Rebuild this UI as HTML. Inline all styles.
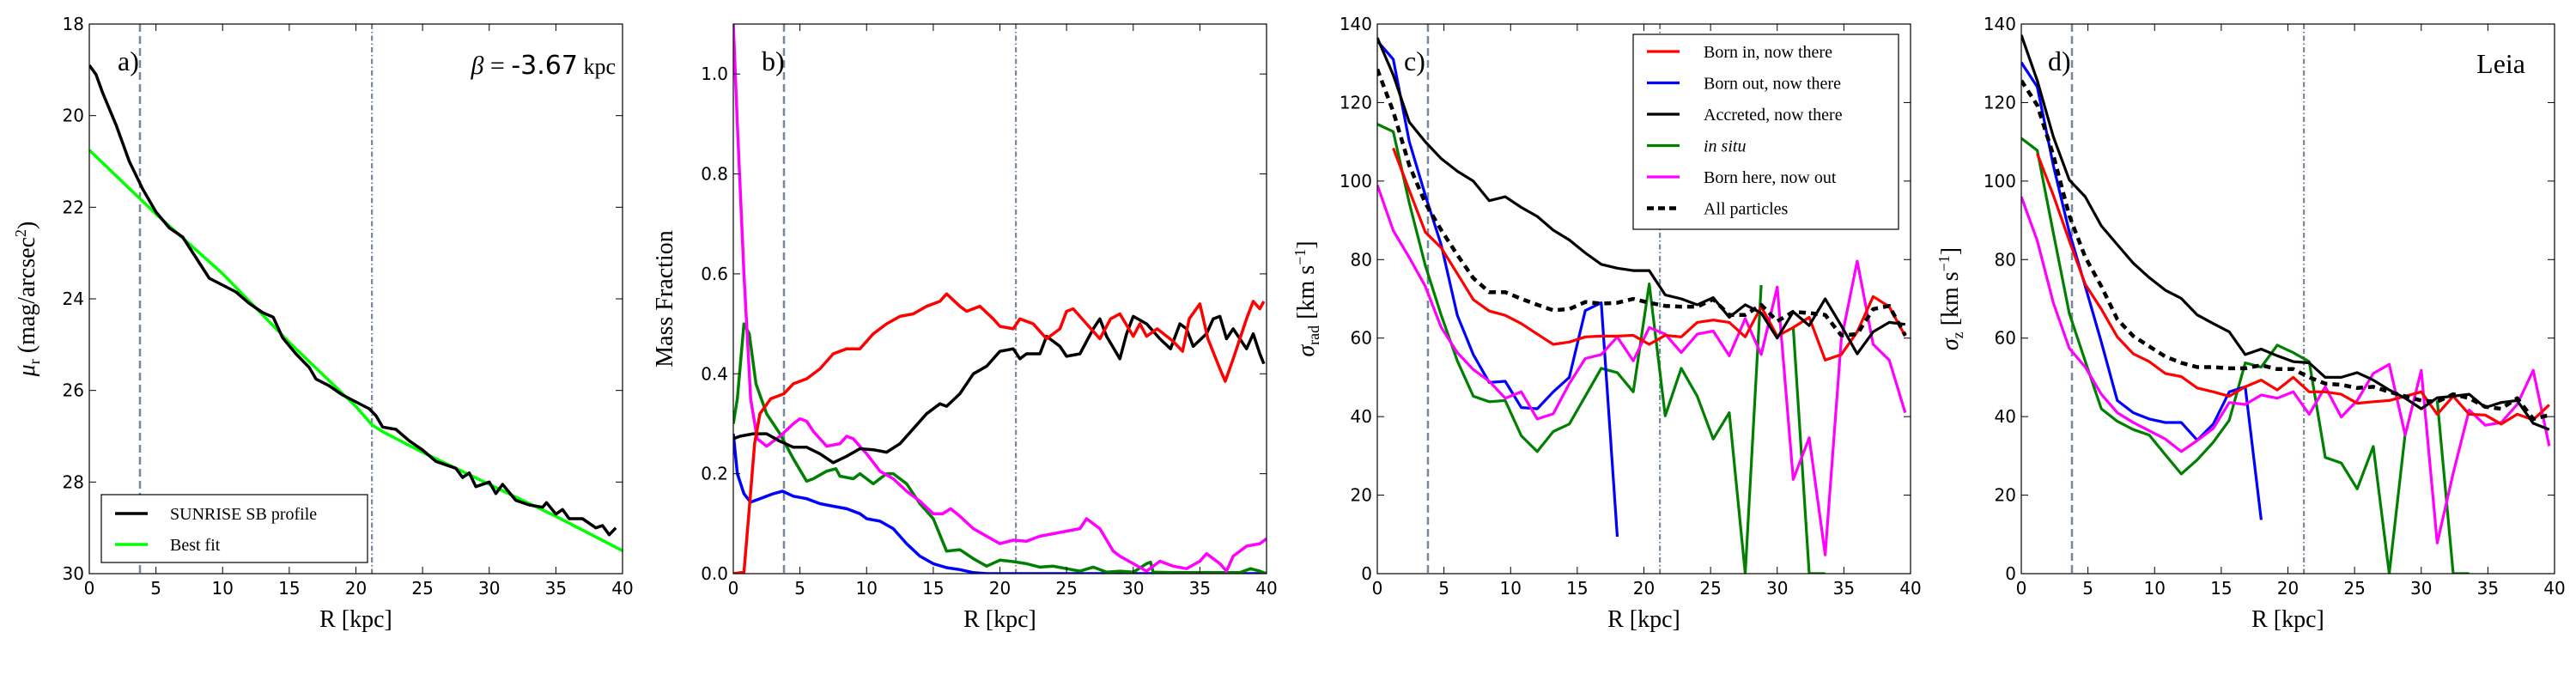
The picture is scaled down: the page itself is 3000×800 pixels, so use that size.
<!DOCTYPE html>
<html><head><meta charset="utf-8"><style>
html,body{margin:0;padding:0;background:#fff;}
svg{display:block;}
text{font-family:"DejaVu Sans","Liberation Sans",sans-serif;}
.serif{font-family:"Liberation Serif","DejaVu Serif",serif;}
</style></head><body>
<svg id="fig" width="3000" height="800" viewBox="0 0 3000 800" xmlns="http://www.w3.org/2000/svg"></svg>
<script>
// ---------- data ----------
const aR = [0,0.5,1,2,3,4,5,6,7,8,9,10,11,12,13,13.8,14.5,15.5,16.5,17,18,19,20,21,21.5,22,23,24,25,26,27,27.5,28,28.5,29,30,30.5,31,32,33,34,34.3,35,35.5,36,37,38,38.5,39,39.5];
const aSB = [18.9,19.1,19.5,20.2,21.0,21.6,22.1,22.45,22.65,23.1,23.55,23.7,23.85,24.1,24.3,24.4,24.85,25.2,25.5,25.75,25.9,26.1,26.25,26.4,26.55,26.8,26.85,27.1,27.3,27.55,27.65,27.7,27.9,27.8,28.1,28.0,28.25,28.05,28.4,28.5,28.55,28.45,28.7,28.6,28.8,28.8,29.0,28.95,29.15,29.0];
const aFitR = [0,5,10,15,20,21.2,22,25,30,35,40];
const aFit = [20.75,22.15,23.45,24.95,26.35,26.75,26.9,27.35,28.05,28.75,29.5];

const bRedR = [0,0.8,1.2,1.6,2,2.8,3.8,4.5,5.5,6.5,7.5,8.5,9.5,10.5,11.5,12.5,13.5,14.5,15.5,16,17,17.5,18.5,19.5,20,21,21.5,22.5,23.5,24.5,25,25.5,26.5,27.5,28.3,29,30,30.5,31,31.8,33,33.7,34.2,35,35.6,36.5,36.9,37.5,38.5,39,39.5,39.8];
const bRed = [0,0.003,0.13,0.26,0.32,0.35,0.36,0.38,0.39,0.41,0.44,0.45,0.45,0.48,0.5,0.515,0.52,0.535,0.545,0.56,0.535,0.525,0.535,0.51,0.495,0.49,0.51,0.5,0.47,0.49,0.525,0.53,0.5,0.47,0.51,0.52,0.475,0.5,0.475,0.49,0.465,0.445,0.51,0.54,0.47,0.41,0.385,0.43,0.51,0.545,0.53,0.545];
const bBlackR = [0,0.5,1.5,2.5,3.5,4.5,5.5,6.5,7.5,8.5,9.5,10.5,11.5,12.5,13.5,14.5,15.5,16,17,18,19,20,21,21.5,22,23,23.5,24.5,25,26,27,27.5,28,29,29.5,30,31,32,32.8,33.5,34,34.5,35.5,36,36.5,37,37.5,38.5,39,39.5,39.8];
const bBlack = [0.27,0.275,0.28,0.28,0.265,0.253,0.253,0.24,0.222,0.235,0.25,0.248,0.243,0.26,0.29,0.32,0.34,0.335,0.36,0.4,0.415,0.445,0.45,0.43,0.44,0.44,0.475,0.455,0.435,0.44,0.49,0.51,0.475,0.43,0.48,0.515,0.5,0.47,0.45,0.5,0.49,0.455,0.48,0.51,0.515,0.47,0.49,0.45,0.48,0.44,0.42];
const bBlueR = [0,0.3,0.8,1.3,2,3,3.7,4.5,5.5,6.5,7.5,8.5,9.5,10,11,12,13,14,15,16,17,18,19,40];
const bBlue = [0.28,0.2,0.16,0.143,0.15,0.16,0.165,0.155,0.15,0.14,0.135,0.13,0.12,0.11,0.105,0.09,0.06,0.035,0.02,0.012,0.008,0.002,0,0];
const bGreenR = [0,0.3,0.8,1.2,1.7,2.5,3.5,4.5,5.5,6,7,7.7,8,9,9.5,10.5,11.5,12,13,14,15,16,17,18,19,20,21,22,23,24,25,26,27,28,29,30,31,31.3,31.5,33,38,38.8,39.5,40];
const bGreen = [0.3,0.35,0.5,0.48,0.38,0.32,0.28,0.23,0.185,0.19,0.205,0.21,0.195,0.19,0.2,0.18,0.2,0.2,0.18,0.14,0.11,0.045,0.048,0.03,0.015,0.027,0.024,0.02,0.013,0.015,0.01,0.005,0.013,0.003,0.005,0.003,0.02,0.023,0.003,0.002,0.002,0.01,0.005,0];
const bMagR = [0,0.3,0.8,1.3,1.8,2.5,3.5,4.5,5,5.5,6,7,8,8.5,9,10,11,12,13,14,15,15.7,16.3,17,18,19,20,21,22,23,24,25,26,26.5,27.5,28.5,29,30,31,32,33,34,35,35.5,36.5,37,37.5,38.5,39.5,40];
const bMag = [1.1,0.9,0.6,0.35,0.27,0.255,0.275,0.3,0.31,0.305,0.285,0.255,0.26,0.275,0.27,0.24,0.205,0.19,0.165,0.145,0.12,0.12,0.13,0.115,0.09,0.075,0.06,0.067,0.065,0.075,0.08,0.085,0.09,0.11,0.09,0.045,0.035,0.02,0.005,0.025,0.015,0.01,0.025,0.04,0.02,0.005,0.035,0.055,0.06,0.07];

// velocity bins (kpc)
const vR = [0,1.2,2.4,3.6,4.8,6,7.2,8.4,9.6,10.8,12,13.2,14.4,15.6,16.8,18,19.2,20.4,21.6,22.8,24,25.2,26.4,27.6,28.8,30,31.2,32.4,33.6,34.8,36,37.2,38.4,39.6];
const cRed = [null,108.4,97.6,87,83,76.4,69.8,66.9,65.8,63.7,61,58.4,59,60.3,60.5,60.5,60.7,58.4,60.7,60.3,64,64.6,64,60.3,68,60.5,62.7,65.3,54.4,55.8,61.6,70.6,68,60.5];
const cBlue = [135.7,131,110,96.4,83.7,65.8,55.8,48.7,49,42.3,42,46.3,50,67,69,9.4,null,null,null,null,null,null,null,null,null,null,null,null,null,null,null,null,null,null];
const cBlack = [136.5,127,115,110,105.7,102.5,100,95,96,93.3,91,87.5,85,81.7,78.8,77.8,77.2,77.2,71,70,68.5,70.3,65.3,68.5,66.4,60,66.7,63.2,70,63.2,56,61.6,64,63.5];
const cGreen = [114.5,112.6,94.4,78.5,65.8,54.2,45.2,43.8,44.1,35.1,31.1,36.2,38.1,45.2,52.3,51.2,46.3,73.8,40.2,52.3,45.2,34.3,41,0,73.5,null,62.7,0,0,null,null,null,null,null];
const cMag = [99,87.4,80.5,73.2,62.7,56.3,52,49,44.7,46.3,39.4,40.7,48.4,54.8,55.8,60.3,54.2,62.7,61,56.3,61,61.8,55.5,65,55.8,73,24,34.6,4.8,59.5,79.6,58.4,54.4,41];
const cAll = [128.5,117.7,104,94.4,87.5,81.2,75.3,71.7,71.7,70,68.5,67.1,67.4,69.2,68.8,69,70,69,68.2,68,68,69.9,65.9,65.9,68.5,64.3,66.7,66.4,65.9,60.7,61,67.4,68.2,60.7];

const dRed = [null,107,96.4,84.8,73.7,67.4,60.3,56,54,51,50.2,47.3,46.3,45.2,47.6,49.3,46.8,50,46.3,46.3,45.7,43.4,43.8,44.1,45.2,46.3,40.6,45.2,40.6,40.4,38.1,40.6,39.2,43];
const dBlue = [130.2,124,104,87,73.2,59,44.1,41,39.4,38.5,38.5,34,38.1,46.3,47.6,13.7,null,null,null,null,null,null,null,null,null,null,null,null,null,null,null,null,null,null];
const dBlack = [137.2,125.6,111.3,100.3,96,88.6,83.8,79.1,75.4,72.2,70.1,65.9,63.7,61.6,55.8,57.2,55.5,54,53.7,50,50,51.2,49.3,46.8,44.7,42,44.8,45.2,45.7,42.3,43.6,44.1,38.3,36.7];
const dGreen = [110.9,107.8,86.8,66.3,54.1,42,38.8,36.7,35.3,30.3,25.4,29,33.5,39.1,53.7,52.6,58.2,56.3,54,29.6,28.2,21.6,32.4,0,35.7,null,44.1,0,0,null,null,null,null,null];
const dMag = [96,84.8,69,57.4,52.6,45.7,41,38.5,36.4,34.3,31.1,33.9,37,43.6,43.1,45.5,44.7,46.3,40.6,47.6,39.9,44.1,51,53.3,35.3,51.8,7.8,25.6,41.7,37.8,38.5,43.1,51.8,32.5];
const dAll = [125.6,119.3,106.6,91.2,80.6,73.2,64.8,60.5,57.9,55.3,53.7,52.6,52.6,52.3,52.3,53.1,52.1,52.1,50,48.4,48.1,47.3,47.6,46.3,45.2,44.1,43.8,45.7,44.7,42.5,42,44.7,39.4,40.4];

const xTicks = [0,5,10,15,20,25,30,35,40];
const aYTicks = [18,20,22,24,26,28,30];
const bYTicks = [0.0,0.2,0.4,0.6,0.8,1.0];
const vYTicks = [0,20,40,60,80,100,120,140];
const rDash = 3.8, rDot = 21.2;

const legendLabels = ["Born in, now there","Born out, now there","Accreted, now there","in situ","Born here, now out","All particles"];

// ---------- drawing ----------
const NS = "http://www.w3.org/2000/svg";
const fig = document.getElementById('fig');
function mk(tag, attrs, parent){
  const e = document.createElementNS(NS, tag);
  for (const k in attrs) e.setAttribute(k, attrs[k]);
  (parent||fig).appendChild(e);
  return e;
}
const W = 621, H = 640, TOP = 28;

function panel(ox, ymin, ymax, yTicks, fmt, name, invert){
  const g = mk('g', {});
  
  
  const L = ox + 104;
  const sx = v => L + v / 40 * W;
  const sy = invert
    ? v => TOP + (v - ymin) / (ymax - ymin) * H
    : v => TOP + H - (v - ymin) / (ymax - ymin) * H;
  const clip = 'clip-' + name;
  const cp = mk('clipPath', {id: clip}, g);
  mk('rect', {x: L, y: TOP, width: W, height: H}, cp);
  const plot = mk('g', {'clip-path': 'url(#' + clip + ')'}, g);
  
  
  const v1 = mk('line', {x1: sx(rDash), x2: sx(rDash), y1: TOP, y2: TOP + H, stroke: '#778899', 'stroke-width': 2.5, 'stroke-dasharray': '9,5'}, plot);
  
  
  const v2 = mk('line', {x1: sx(rDot), x2: sx(rDot), y1: TOP, y2: TOP + H, stroke: '#778899', 'stroke-width': 2.2, 'stroke-dasharray': '6,3,1.5,3'}, plot);
  
  
  const fr = mk('rect', {x: L, y: TOP, width: W, height: H, fill: 'none', stroke: '#000', 'stroke-width': 1.2}, g);
  
  
  xTicks.forEach(t => {
    const x = sx(t);
    mk('line', {x1: x, x2: x, y1: TOP + H, y2: TOP + H - 8, stroke: '#000', 'stroke-width': 1}, g);
    mk('line', {x1: x, x2: x, y1: TOP, y2: TOP + 8, stroke: '#000', 'stroke-width': 1}, g);
    const tl = mk('text', {x: x, y: TOP + H + 24, 'font-size': 20, 'text-anchor': 'middle'}, g);
    tl.textContent = t;
    
    
  });
  yTicks.forEach(t => {
    const y = sy(t);
    mk('line', {x1: L, x2: L + 8, y1: y, y2: y, stroke: '#000', 'stroke-width': 1}, g);
    mk('line', {x1: L + W, x2: L + W - 8, y1: y, y2: y, stroke: '#000', 'stroke-width': 1}, g);
    const tl = mk('text', {x: L - 6, y: y + 7, 'font-size': 20, 'text-anchor': 'end'}, g);
    tl.textContent = fmt(t);
    
    
  });
  const xl = mk('text', {x: L + W / 2, y: TOP + H + 62, 'font-size': 28, 'text-anchor': 'middle', class: 'serif'}, g);
  xl.textContent = 'R [kpc]';
  
  
  return {g, plot, sx, sy, L};
}

function line(p, xs, ys, color, w, dash, name){
  let d = '', pen = false;
  for (let i = 0; i < xs.length; i++){
    if (ys[i] === null || ys[i] === undefined){ pen = false; continue; }
    d += (pen ? 'L' : 'M') + p.sx(xs[i]).toFixed(1) + ',' + p.sy(ys[i]).toFixed(1);
    pen = true;
  }
  const e = mk('path', {d: d, fill: 'none', stroke: color, 'stroke-width': w, 'stroke-linejoin': 'round'}, p.plot);
  if (dash) e.setAttribute('stroke-dasharray', dash);
  
  
  return e;
}

function ylabel(x, y, html, name){
  const t = mk('text', {x: x, y: y, 'font-size': 28, 'text-anchor': 'middle', class: 'serif', transform: 'rotate(-90 ' + x + ' ' + y + ')'});
  t.innerHTML = html;
  
  
}
function panelLabel(x, txt, name){
  const t = mk('text', {x: x, y: 82, 'font-size': 32, class: 'serif'});
  t.textContent = txt;
  
  
}

// Panel a
const pa = panel(0, 18, 30, aYTicks, v => v, 'panel-a', true);
line(pa, aFitR, aFit, '#00ff00', 3.5, null, 'best-fit-line');
line(pa, aR, aSB, '#000', 3.5, null, 'sunrise-sb-profile-line');
ylabel(40, 348, '<tspan font-style="italic">μ</tspan><tspan font-size="18" dy="6">r</tspan><tspan dy="-6"> (mag/arcsec</tspan><tspan font-size="18" dy="-10">2</tspan><tspan dy="10">)</tspan>', 'y-axis-title-a');
panelLabel(137, 'a)', 'panel-label-a');
{
  const t = mk('text', {x: 717, y: 86, 'font-size': 30, 'text-anchor': 'end'});
  t.innerHTML = '<tspan class="serif" font-style="italic">β</tspan><tspan class="serif"> = </tspan><tspan>-3.67</tspan><tspan class="serif" font-size="26"> kpc</tspan>';
  
  
  const lg = mk('g', {});
  
  
  mk('rect', {x: 118, y: 576, width: 310, height: 79, fill: '#fff', stroke: '#000', 'stroke-width': 1.2}, lg);
  [['SUNRISE SB profile', '#000'], ['Best fit', '#00ff00']].forEach((it, i) => {
    const y = 598 + i * 36;
    const ln = mk('line', {x1: 134, x2: 172, y1: y, y2: y, stroke: it[1], 'stroke-width': 3.5}, lg);
    
    
    const tx = mk('text', {x: 198, y: y + 7, 'font-size': 20, class: 'serif'}, lg);
    tx.textContent = it[0];
    
    
  });
}

// Panel b
const pb = panel(750, 0, 1.1, bYTicks, v => v.toFixed(1), 'panel-b');
line(pb, bBlueR, bBlue, '#0000ff', 3.5, null, 'born-out-fraction-line');
line(pb, bGreenR, bGreen, '#008000', 3.5, null, 'in-situ-fraction-line');
line(pb, bMagR, bMag, '#ff00ff', 3.5, null, 'born-here-now-out-fraction-line');
line(pb, bBlackR, bBlack, '#000', 3.5, null, 'accreted-fraction-line');
line(pb, bRedR, bRed, '#ff0000', 3.5, null, 'born-in-fraction-line');
ylabel(783, 348, 'Mass Fraction', 'y-axis-title-b');
panelLabel(887, 'b)', 'panel-label-b');

// Panel c and d
function velPanel(ox, R, Bl, K, G, M, A, name, letter, ylab){
  const p = panel(ox, 0, 140, vYTicks, v => v, name);
  line(p, vR, G, '#008000', 3.2, null, 'in-situ-line');
  line(p, vR, Bl, '#0000ff', 3.2, null, 'born-out-line');
  line(p, vR, M, '#ff00ff', 3.2, null, 'born-here-now-out-line');
  line(p, vR, R, '#ff0000', 3.2, null, 'born-in-line');
  line(p, vR, K, '#000', 3.2, null, 'accreted-line');
  line(p, vR, A, '#000', 4.5, '8,6', 'all-particles-line');
  ylabel(ox + 30, 348, ylab, 'y-axis-title-' + letter);
  panelLabel(ox + 135, letter + ')', 'panel-label-' + letter);
  return p;
}
velPanel(1500, cRed, cBlue, cBlack, cGreen, cMag, cAll, 'panel-c', 'c', '<tspan font-style="italic">σ</tspan><tspan font-size="18" dy="6">rad</tspan><tspan dy="-6">  [km s</tspan><tspan font-size="18" dy="-10">−1</tspan><tspan dy="10">]</tspan>');
velPanel(2250, dRed, dBlue, dBlack, dGreen, dMag, dAll, 'panel-d', 'd', '<tspan font-style="italic">σ</tspan><tspan font-size="18" dy="6">z</tspan><tspan dy="-6">  [km s</tspan><tspan font-size="18" dy="-10">−1</tspan><tspan dy="10">]</tspan>');
{
  const t = mk('text', {x: 2941, y: 85, 'font-size': 32, 'text-anchor': 'end', class: 'serif'});
  t.textContent = 'Leia';
  
  
  const lg = mk('g', {});
  
  
  mk('rect', {x: 1902, y: 40, width: 309, height: 227, fill: '#fff', stroke: '#000', 'stroke-width': 1.2}, lg);
  const cols = ['#ff0000', '#0000ff', '#000', '#008000', '#ff00ff', '#000'];
  legendLabels.forEach((lab, i) => {
    const y = 60 + i * 36.5;
    const ln = mk('line', {x1: 1918, x2: 1956, y1: y, y2: y, stroke: cols[i], 'stroke-width': i === 5 ? 4.5 : 3.2}, lg);
    if (i === 5) ln.setAttribute('stroke-dasharray', '8,5');
    
    
    const tx = mk('text', {x: 1984, y: y + 7, 'font-size': 20, class: 'serif'}, lg);
    tx.textContent = lab;
    if (i === 3) tx.setAttribute('font-style', 'italic');
    
    
  });
}
</script>
</body></html>
